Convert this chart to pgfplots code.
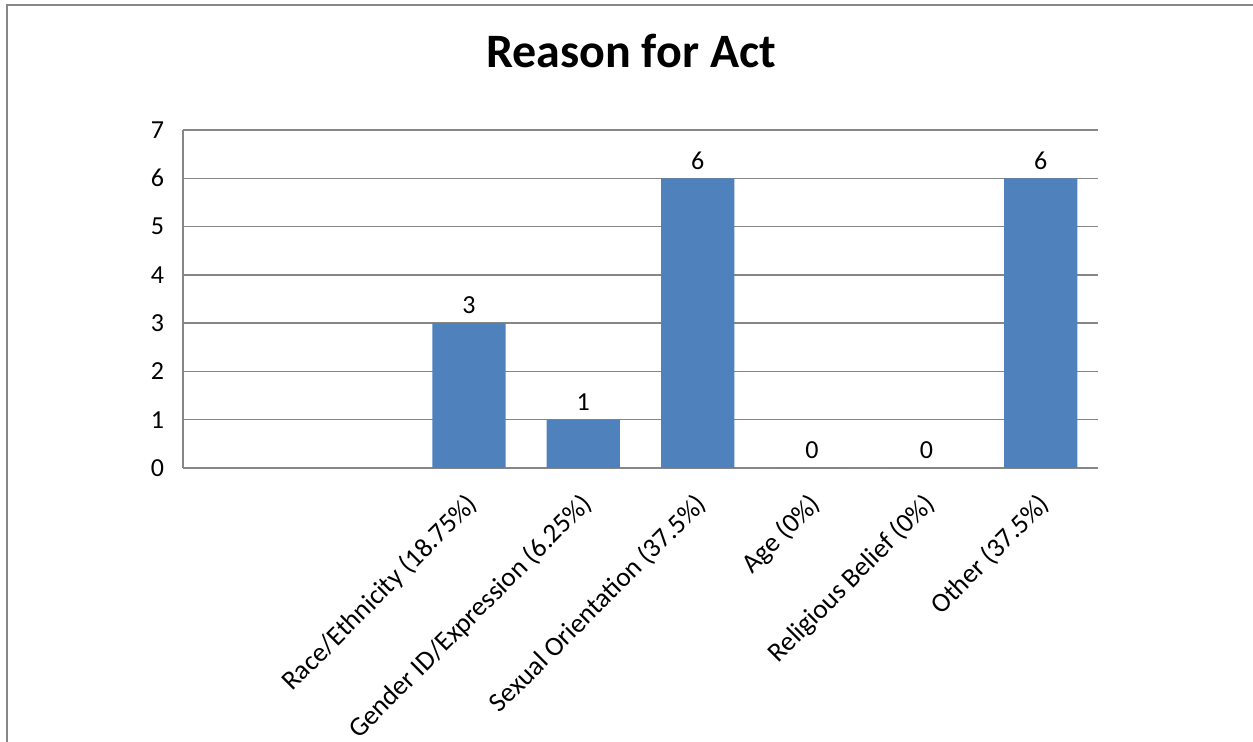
\documentclass[border=0pt]{standalone}
\usepackage{fontspec}
\setmainfont{Carlito}
\usepackage{pgfplots}
\pgfplotsset{compat=1.18}
\definecolor{barblue}{HTML}{4F81BD}
\definecolor{gridgray}{HTML}{868686}
\definecolor{framegray}{HTML}{878787}
\begin{document}
% 1 px of the reference = 0.5pt
\begin{tikzpicture}[x=0.5pt,y=0.5pt]
\path[use as bounding box] (0,0) rectangle (1253,742);
\draw[framegray,line width=1pt] (7,-5) -- (7,737) -- (1260,737);
\node[anchor=base,font=\fontsize{24}{28}\selectfont\bfseries] at (631,674) {Reason for Act};
\begin{axis}[
    at={(91.5pt,137pt)}, anchor=south west,
    scale only axis, width=457.5pt, height=169pt,
    xmin=-0.5, xmax=7.5, ymin=0, ymax=7,
    ytick={0,...,7},
    xtick={2,...,7},
    xticklabels={Race/Ethnicity (18.75\%),Gender ID/Expression (6.25\%),Sexual Orientation (37.5\%),Age (0\%),Religious Belief (0\%),Other (37.5\%)},
    xticklabel style={xshift=3pt, yshift=-15.2pt, rotate=45, anchor=east, font=\fontsize{13.6}{15}\selectfont, inner sep=1pt},
    yticklabel style={font=\fontsize{13}{15}\selectfont, xshift=-6pt},
    /pgf/number format/assume math mode=true,
    major tick length=0pt,
    ymajorgrids, grid style={gridgray, line width=0.75pt},
    axis x line*=bottom, axis y line*=left,
    axis line style={gridgray, line width=0.75pt, -},
    ybar, bar width=0.64,
    nodes near coords,
    nodes near coords style={font=\fontsize{13}{15}\selectfont, /pgf/number format/assume math mode=true, yshift=1pt},
    clip=false,
]
\addplot[fill=barblue, draw=none] coordinates {
    (2,3) (3,1) (4,6) (5,0) (6,0) (7,6)
};
\draw[gridgray, line width=0.75pt] (axis cs:-0.5,7) -- (axis cs:7.5,7);
\end{axis}
\end{tikzpicture}
\end{document}
